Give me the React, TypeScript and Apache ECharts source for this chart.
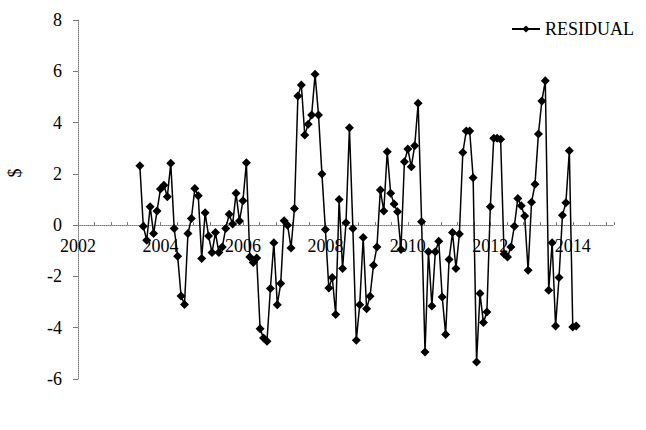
import React, { useEffect, useRef } from "react";
import * as echarts from "echarts";

// Monthly residuals, July 2003 – February 2014
const START_YEAR = 2003.5;
const RESIDUAL: number[] = [
  2.32, -0.04, -0.59, 0.72, -0.33, 0.55, 1.41, 1.56, 1.11, 2.41,
  -0.13, -1.21, -2.76, -3.09, -0.33, 0.26, 1.43, 1.15, -1.3, 0.48,
  -0.42, -1.07, -0.29, -1.07, -0.85, -0.13, 0.42, 0.04, 1.24, 0.16,
  0.95, 2.43, -1.24, -1.46, -1.28, -4.04, -4.4, -4.53, -2.47, -0.69,
  -3.1, -2.28, 0.17, 0.0, -0.89, 0.65, 5.04, 5.47, 3.52, 3.93,
  4.3, 5.88, 4.3, 1.99, -0.17, -2.45, -2.04, -3.48, 1.0, -1.69,
  0.09, 3.8, -0.13, -4.49, -3.1, -0.48, -3.26, -2.77, -1.56, -0.85,
  1.37, 0.55, 2.86, 1.24, 0.82, 0.52, -0.95, 2.47, 2.97, 2.28,
  3.1, 4.75, 0.13, -4.95, -1.04, -3.15, -1.04, -0.63, -2.8, -4.26,
  -1.34, -0.29, -1.69, -0.35, 2.83, 3.67, 3.67, 1.85, -5.34, -2.67,
  -3.8, -3.39, 0.72, 3.39, 3.39, 3.35, -1.13, -1.24, -0.85, -0.04,
  1.04, 0.76, 0.36, -1.76, 0.89, 1.59, 3.55, 4.84, 5.63, -2.54,
  -0.69, -3.93, -2.04, 0.39, 0.87, 2.9, -3.97, -3.93,
];
const X_MIN = 2002;
const X_MAX = 2015;
const X_STEP = 2;
const Y_MIN = -6;
const Y_MAX = 8;
const Y_STEP = 2;
const SERIES_NAME = "RESIDUAL";
const Y_TITLE = "$";

const FONT = "Liberation Serif";

const GRID_TOP = 20;
const GRID_HEIGHT = 359;

export default function App() {
  const ref = useRef<HTMLDivElement>(null);
  useEffect(() => {
    if (!ref.current) return;
    const chart = echarts.init(ref.current, undefined, { renderer: "svg" });
    const data = RESIDUAL.map((v, i) => [START_YEAR + i / 12, v]);
    const axisColor = "#777";
    // x axis crosses the value axis at zero
    const zeroOffset = -(GRID_HEIGHT * (0 - Y_MIN)) / (Y_MAX - Y_MIN);
    const labelStyle = {
      fontFamily: FONT,
      fontSize: 18,
      color: "#000",
    };
    chart.setOption({
      animation: false,
      backgroundColor: "#fff",
      textStyle: { fontFamily: FONT },
      grid: { left: 78, top: GRID_TOP, width: 536, height: GRID_HEIGHT, containLabel: false },
      legend: {
        right: 7,
        top: 15,
        itemWidth: 28,
        itemHeight: 9,
        textStyle: { ...labelStyle },
        data: [SERIES_NAME],
      },
      graphic: [
        {
          type: "text",
          x: 15,
          y: 173,
          rotation: Math.PI / 2,
          style: {
            text: Y_TITLE,
            font: `18px "${FONT}"`,
            fill: "#000",
            align: "center",
            verticalAlign: "middle",
          },
        },
      ],
      xAxis: {
        type: "value",
        position: "bottom",
        offset: zeroOffset,
        min: X_MIN,
        max: X_MAX,
        interval: X_STEP,
        axisLine: { onZero: false, lineStyle: { color: axisColor, width: 1, type: [1, 1] } },
        axisTick: { show: true, inside: true, length: 3, lineStyle: { color: axisColor } },
        minorTick: { show: true, splitNumber: 5, length: 3, lineStyle: { color: axisColor } },
        splitLine: { show: false },
        axisLabel: {
          showMaxLabel: false,
          formatter: (v: number) => String(v),
          ...labelStyle,
          margin: 12,
        },
      },
      yAxis: {
        type: "value",
        min: Y_MIN,
        max: Y_MAX,
        interval: Y_STEP,
        axisLine: { show: true, onZero: false, lineStyle: { color: axisColor, width: 1, type: [1, 1] } },
        axisTick: { show: true, inside: false, length: 5, lineStyle: { color: axisColor } },
        splitLine: { show: false },
        axisLabel: {
          formatter: (v: number) => String(v),
          ...labelStyle,
          margin: 16,
        },
      },
      series: [
        {
          name: SERIES_NAME,
          type: "line",
          data,
          symbol: "diamond",
          symbolSize: 9,
          showAllSymbol: true,
          lineStyle: { color: "#000", width: 1.5 },
          itemStyle: { color: "#000" },
        },
      ],
    });
    return () => chart.dispose();
  }, []);
  return (
    <div
      ref={ref}
      style={{ position: "absolute", left: 0, top: 0, width: 646, height: 430 }}
    />
  );
}
